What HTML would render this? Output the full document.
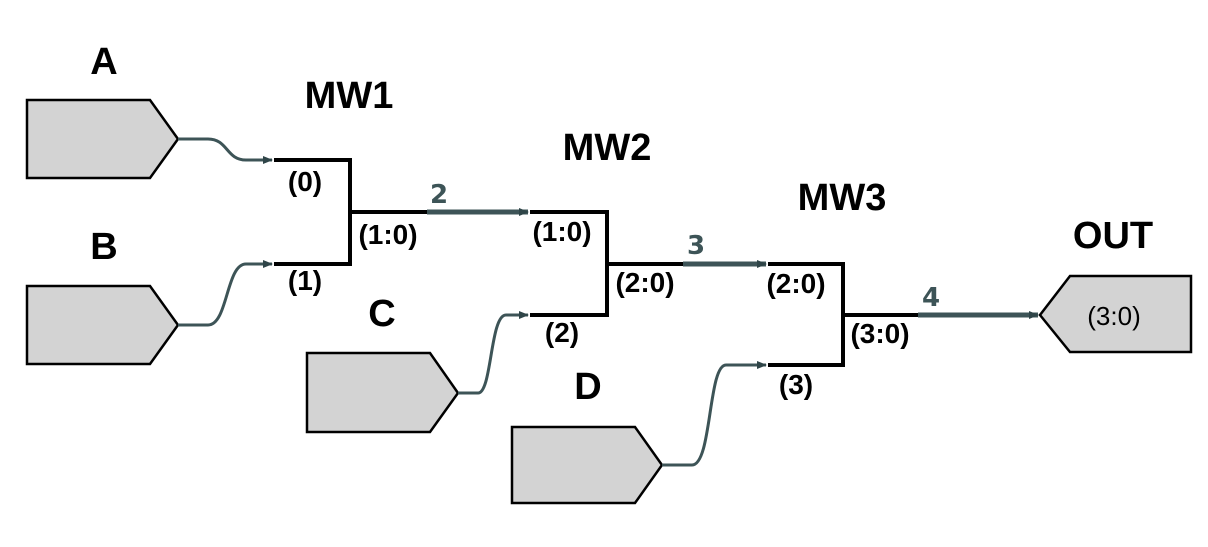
<!DOCTYPE html>
<html><head><style>body{margin:0;background:#fff}</style></head><body>
<svg width="1208" height="542" viewBox="0 0 1208 542" xmlns="http://www.w3.org/2000/svg" font-family="Liberation Sans, Arial, sans-serif">
<defs><marker id="ar" markerWidth="10" markerHeight="8" refX="9" refY="4" orient="auto" markerUnits="userSpaceOnUse"><path d="M0,0 L10,4 L0,8 z" fill="#2f4548"/></marker></defs>
<g fill="#d3d3d3" stroke="#000" stroke-width="2.5">
<path d="M27,100 H150 L178,139 L150,178 H27 Z"/>
<path d="M27,286 H150 L178,325 L150,364 H27 Z"/>
<path d="M307,353 H430 L458,393 L430,432 H307 Z"/>
<path d="M512,427 H635 L662,465 L635,503 H512 Z"/>
<path d="M1070,276 H1191 V352 H1070 L1040,315 Z"/>
</g>
<g fill="none" stroke="#3d5457" stroke-width="3">
<path d="M178,139 H208 C228,139 226,160 246,160 H272" marker-end="url(#ar)"/>
<path d="M178,325 H208 C228,325 226,264 246,264 H272" marker-end="url(#ar)"/>
<path d="M458,393 H478 C492,393 490,315 506,315 H528" marker-end="url(#ar)"/>
<path d="M662,465 H692 C712,465 708,365 726,365 H766" marker-end="url(#ar)"/>
</g>
<g fill="none" stroke="#3d5457" stroke-width="5">
<path d="M427,212 H528" marker-end="url(#ar)"/>
<path d="M683,264 H766" marker-end="url(#ar)"/>
<path d="M918,315 H1038" marker-end="url(#ar)"/>
</g>
<g fill="none" stroke="#000" stroke-width="4">
<path d="M274,160 H350 V264 H274 M350,212 H427"/>
<path d="M530,212 H607 V315 H530 M607,264 H683"/>
<path d="M768,264 H843 V365 H768 M843,315 H918"/>
</g>
<g font-weight="bold" font-size="38" text-anchor="middle" fill="#000">
<text x="104" y="74">A</text><text x="104" y="259">B</text><text x="382" y="326">C</text><text x="588" y="399">D</text>
<text x="349" y="108">MW1</text><text x="607" y="160">MW2</text><text x="842" y="210">MW3</text><text x="1113" y="248">OUT</text>
</g>
<g font-weight="bold" font-size="28" text-anchor="middle" fill="#000">
<text x="305" y="191">(0)</text><text x="305" y="290">(1)</text><text x="388" y="244">(1:0)</text>
<text x="562" y="241">(1:0)</text><text x="562" y="342">(2)</text><text x="645" y="292">(2:0)</text>
<text x="796" y="293">(2:0)</text><text x="796" y="394">(3)</text><text x="880" y="343">(3:0)</text>
</g>
<g font-weight="bold" font-size="26" text-anchor="middle" fill="#3d5457" font-family="DejaVu Sans, sans-serif">
<text x="439" y="203">2</text><text x="696" y="254">3</text><text x="931" y="306">4</text>
</g>
<text x="1114" y="325" font-size="26" text-anchor="middle" fill="#000">(3:0)</text>
</svg>
</body></html>
